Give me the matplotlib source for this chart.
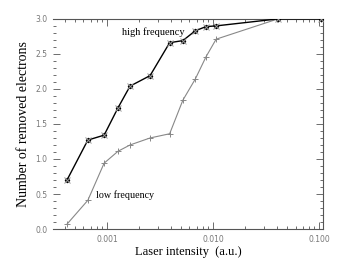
"""Number of removed electrons vs laser intensity, high vs low frequency."""
import matplotlib
matplotlib.use("Agg")
import matplotlib.pyplot as plt
from matplotlib.ticker import MultipleLocator, FixedLocator, LogLocator, NullFormatter

# laser intensity (a.u.), shared by both runs
intensity = [0.00042, 0.00066, 0.00094, 0.00127, 0.00165, 0.00255, 0.0039,
             0.0052, 0.0068, 0.0086, 0.0107, 0.041, 0.105]
high_freq = [0.70, 1.27, 1.34, 1.73, 2.04, 2.19, 2.66,
             2.69, 2.83, 2.89, 2.90, 3.0, 3.0]
low_freq = [0.07, 0.41, 0.94, 1.11, 1.20, 1.30, 1.36,
            1.84, 2.14, 2.46, 2.71, 3.0, 3.0]

x_ticks = [0.001, 0.01, 0.1]
x_tick_labels = ["0.001", "0.010", "0.100"]

serif = ["Liberation Serif", "DejaVu Serif"]
tick_grey = "#777777"
axis_grey = "#555555"

fig = plt.figure(figsize=(3.4, 2.66), dpi=100)
ax = fig.add_axes([0.156, 0.139, 0.794, 0.790])

ax.plot(intensity, low_freq, color="#888888", linewidth=0.8,
        marker="+", markersize=4, markeredgewidth=0.7, zorder=2)
ax.plot(intensity, high_freq, color="black", linewidth=1.0,
        marker="D", markersize=2.2, zorder=3)
ax.plot(intensity, high_freq, linestyle="none", color="#999999",
        marker="x", markersize=4, markeredgewidth=0.7, zorder=4)

ax.text(0.00139, 2.81, "high frequency", family=serif, fontsize=7.5,
        va="center", ha="left")
ax.text(0.00079, 0.49, "low frequency", family=serif, fontsize=7.2,
        va="center", ha="left")

ax.set_xscale("log")
ax.set_xlim(0.00031, 0.109)
ax.set_ylim(0, 3.0)

ax.xaxis.set_major_locator(FixedLocator(x_ticks))
ax.set_xticklabels(x_tick_labels)
ax.xaxis.set_minor_locator(LogLocator(base=10, subs=range(2, 10)))
ax.xaxis.set_minor_formatter(NullFormatter())
ax.yaxis.set_major_locator(MultipleLocator(0.5))
ax.yaxis.set_minor_locator(MultipleLocator(0.1))
ax.yaxis.set_major_formatter(plt.FormatStrFormatter("%.1f"))

ax.tick_params(which="both", direction="in", top=True, right=True,
               color=axis_grey, width=0.6, labelsize=5.5, labelcolor=tick_grey,
               pad=4)
ax.tick_params(which="major", length=5)
ax.tick_params(which="minor", length=2.5)

for name, spine in ax.spines.items():
    spine.set_color(axis_grey)
    spine.set_linewidth(0.8)
ax.spines["left"].set_visible(False)

ax.set_xlabel("Laser intensity  (a.u.)", family=serif, fontsize=9, labelpad=2)
ax.set_ylabel("Number of removed electrons", family=serif, fontsize=10,
              labelpad=4)

fig.savefig("out.png", dpi=100)
